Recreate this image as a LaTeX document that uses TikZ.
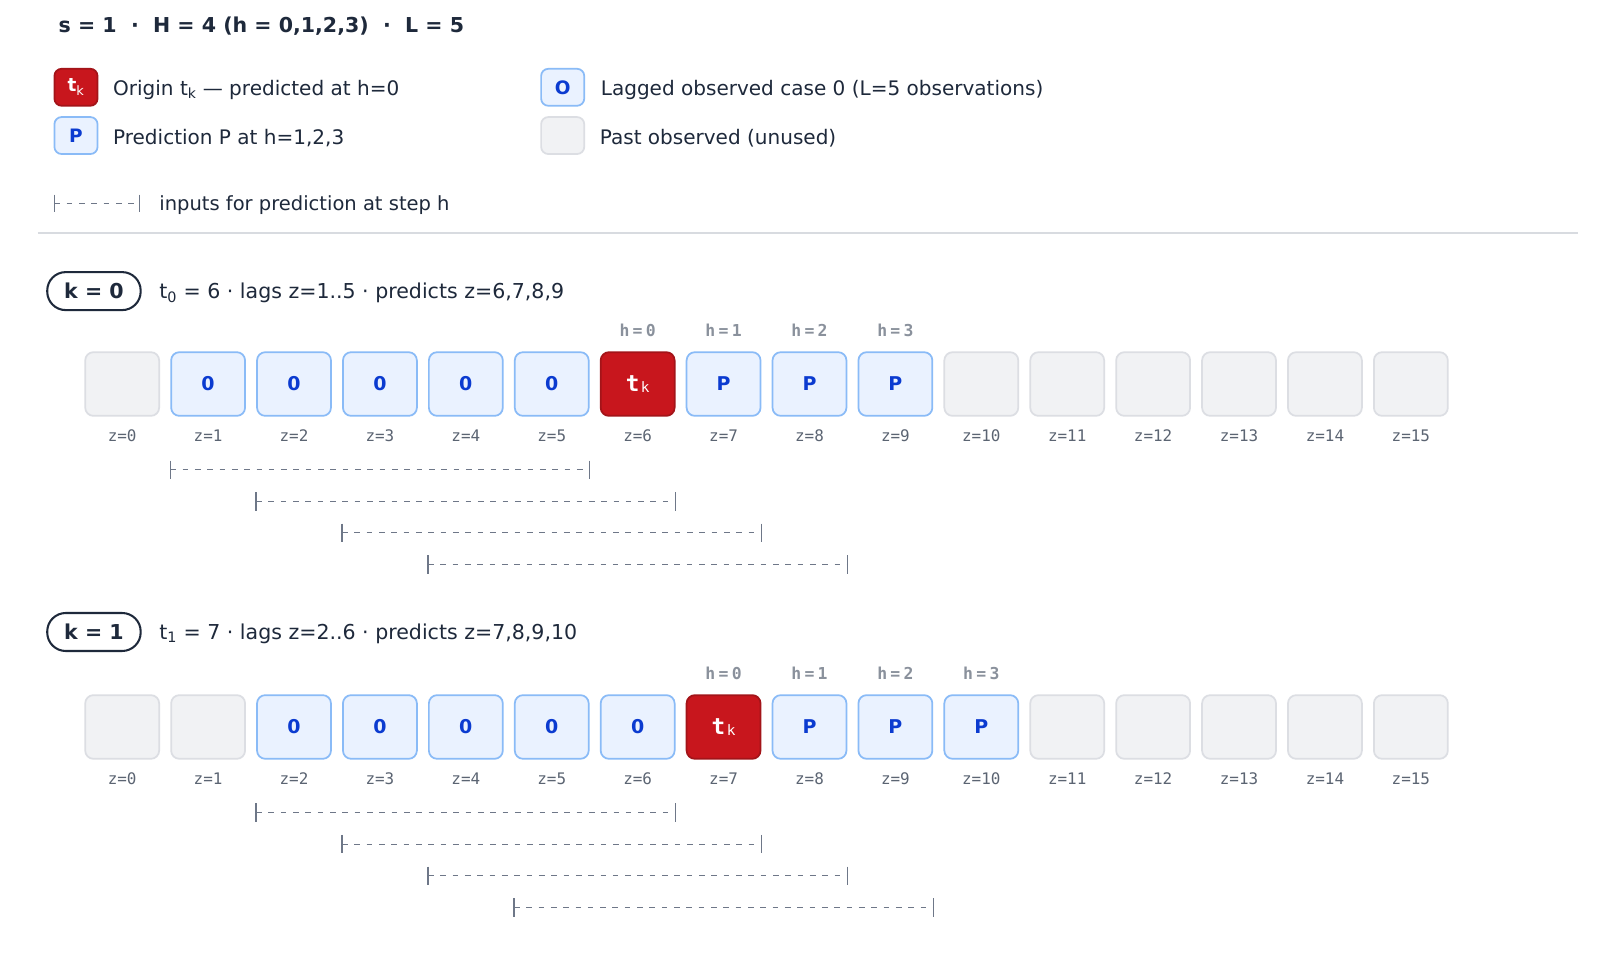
\documentclass[tikz,border=0pt]{standalone}
\usepackage{fontspec}
\setmainfont{DejaVu Sans}
\setmonofont{DejaVu Sans Mono}
\usetikzlibrary{calc}

\definecolor{ink}{HTML}{1E293B}
\definecolor{redfill}{HTML}{C8161D}
\definecolor{redline}{HTML}{A31419}
\definecolor{bluefill}{HTML}{EAF2FF}
\definecolor{blueline}{HTML}{8ABBF7}
\definecolor{bluetext}{HTML}{0B3BD0}
\definecolor{grayfill}{HTML}{F1F2F4}
\definecolor{grayline}{HTML}{DCDEE3}
\definecolor{zgray}{HTML}{5B6472}
\definecolor{hgray}{HTML}{8A919C}
\definecolor{brkcol}{HTML}{6E7788}
\definecolor{sepcol}{HTML}{D8DBE0}

\newcommand{\originlabel}{{\ttfamily\bfseries t}\hspace{1.5pt}\raisebox{-1.5pt}{\ttfamily\fontsize{14}{14}\selectfont k}}
\newcommand{\legorigin}{{\bfseries t}\textsubscript{k}}

\tikzset{
  cell/.style={minimum width=72pt, minimum height=62pt, rounded corners=8pt,
    line width=1.7pt, inner sep=0pt},
  obscell/.style={cell, fill=bluefill, draw=blueline, text=bluetext,
    font=\fontsize{18.5}{18.5}\selectfont\bfseries},
  predcell/.style={obscell},
  origincell/.style={cell, fill=redfill, draw=redline, text=white,
    font=\fontsize{22}{22}\selectfont},
  unusedcell/.style={cell, fill=grayfill, draw=grayline},
  legbox/.style={minimum width=42pt, minimum height=36pt, rounded corners=7pt,
    line width=1.7pt, inner sep=0pt},
  zlab/.style={font=\ttfamily\fontsize{15.5}{16}\selectfont, text=zgray, inner sep=0pt},
  hlab/.style={font=\ttfamily\bfseries\fontsize{16}{16}\selectfont\addfontfeature{LetterSpace=20},
    text=hgray, inner sep=0pt},
  txt/.style={font=\fontsize{19.5}{22}\selectfont, text=ink, inner sep=0pt, anchor=west, yshift=-1.5pt},
  badge/.style={draw=ink, line width=2pt, minimum width=91pt, minimum height=37pt,
    rounded corners=18pt, inner sep=0pt, text=ink,
    font=\fontsize{20}{20}\selectfont\bfseries},
  brk/.style={draw=brkcol, line width=1.4pt},
  brkdash/.style={brk, line width=1.3pt, dash pattern=on 5.5pt off 6.5pt},
}

\begin{document}
\begin{tikzpicture}[x=1pt, y=-1pt]
\useasboundingbox[fill=white] (0,0) rectangle (1568,951.5);

% title
\node[txt, font=\fontsize{20}{22}\selectfont\bfseries] (title) at (57,24)
  {s = 1 \ · \ H = 4 (h = 0,1,2,3) \ · \ L = 5};

% legend
\node[legbox, fill=redfill, draw=redline, text=white, font=\fontsize{18}{18}\selectfont] (lgo) at (74,85) {\legorigin};
\node[txt] (lgot) at (110,86) {Origin t\textsubscript{k} — predicted at h=0};
\node[legbox, fill=bluefill, draw=blueline, text=bluetext, font=\fontsize{18}{18}\selectfont\bfseries] (lgp) at (74,132) {P};
\node[txt] (lgpt) at (110,133) {Prediction P at h=1,2,3};
\node[legbox, fill=bluefill, draw=blueline, text=bluetext, font=\fontsize{18}{18}\selectfont\bfseries] (lgl) at (548,85) {O};
\node[txt] (lglt) at (585,86) {Lagged observed case 0 (L=5 observations)};
\node[legbox, fill=grayfill, draw=grayline] (lgu) at (548,132) {};
\node[txt] (lgut) at (584,133) {Past observed (unused)};

\coordinate (lb1) at (53,198);
\coordinate (lb2) at (136,198);
\draw[brkdash] (lb1) -- (lb2);
\draw[brk] ($(lb1)+(0,-8.5)$) -- ($(lb1)+(0,8.5)$);
\draw[brk] ($(lb2)+(0,-8.5)$) -- ($(lb2)+(0,8.5)$);
\node[txt, font=\fontsize{19}{22}\selectfont] (lbt) at (155,198) {inputs for prediction at step h};

% separator
\coordinate (s1) at (37,227);
\coordinate (s2) at (1537,227);
\draw[sepcol, line width=1.2pt] (s1) -- (s2);

% badges and descriptions
\node[badge] (k0) at (91.5,283.5) {k = 0};
\node[txt, font=\fontsize{20}{22}\selectfont] (d0) at (155,284) {t\textsubscript{0} = 6 · lags z=1..5 · predicts z=6,7,8,9};
\node[badge] (k1) at (91.5,615.5) {k = 1};
\node[txt, font=\fontsize{20}{22}\selectfont] (d1) at (155,616) {t\textsubscript{1} = 7 · lags z=2..6 · predicts z=7,8,9,10};

% rows
\foreach \k/\yc in {0/374, 1/708} {
  \pgfmathtruncatemacro{\tor}{6+\k}
  \pgfmathtruncatemacro{\lo}{\tor-5}
  \pgfmathtruncatemacro{\hi}{\tor+3}
  \foreach \i in {0,...,15} {
    \pgfmathsetmacro{\xc}{119+83.67*\i}
    \ifnum\i<\lo
      \node[unusedcell] (c\k-\i) at (\xc,\yc) {};
    \else\ifnum\i<\tor
      \node[obscell] (c\k-\i) at (\xc,\yc) {0};
    \else\ifnum\i=\tor
      \node[origincell] (c\k-\i) at (\xc,\yc) {\originlabel};
    \else\ifnum\i>\hi
      \node[unusedcell] (c\k-\i) at (\xc,\yc) {};
    \else
      \node[predcell] (c\k-\i) at (\xc,\yc) {P};
    \fi\fi\fi\fi
    \node[zlab] (z\k-\i) at (\xc,\yc+50) {z=\i};
  }
  \foreach \h in {0,...,3} {
    \pgfmathtruncatemacro{\hc}{\tor+\h}
    \pgfmathtruncatemacro{\a}{\tor-5+\h}
    \pgfmathtruncatemacro{\b}{\tor-1+\h}
    \pgfmathsetmacro{\dy}{83.5+30.7*\h}
    \node[hlab] (h\k-\h) at ($(c\k-\hc.center)+(0,-52)$) {h=\h};
    \coordinate (bl\k-\h) at ($(c\k-\a.west)+(0,\dy)$);
    \coordinate (br\k-\h) at ($(c\k-\b.east)+(0,\dy)$);
    \draw[brkdash] (bl\k-\h) -- (br\k-\h);
    \draw[brk] ($(bl\k-\h)+(0,-9)$) -- ($(bl\k-\h)+(0,9)$);
    \draw[brk] ($(br\k-\h)+(0,-9)$) -- ($(br\k-\h)+(0,9)$);
  }
}
\end{tikzpicture}
\end{document}
